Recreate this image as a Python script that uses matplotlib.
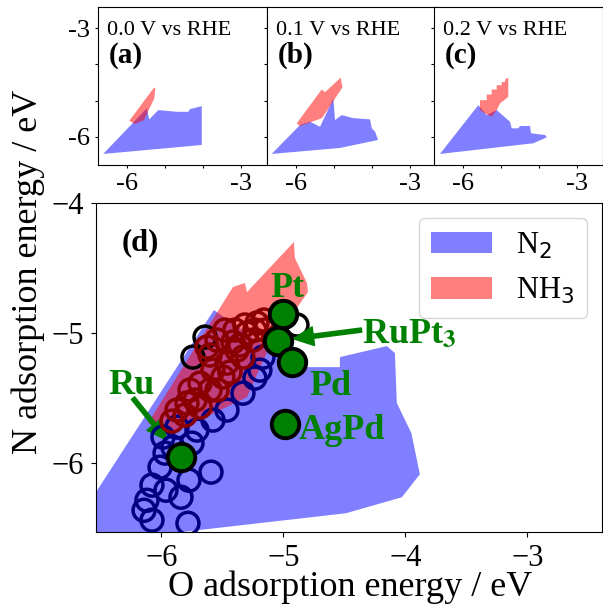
import matplotlib
matplotlib.use('Agg')
import matplotlib.pyplot as plt

plt.rcParams['font.family'] = ['Liberation Serif', 'DejaVu Sans']

# ---- panel (d): product regions ----
n2_x = [-6.822, -5.570, -5.127, -4.865, -4.537, -4.537, -4.152, -4.086,
        -4.070, -3.951, -3.881, -4.029, -4.488]
n2_y = [-6.635, -4.823, -5.115, -5.262, -5.262, -5.185, -5.100, -5.154,
        -5.538, -5.769, -6.085, -6.262, -6.385]
nh3_x = [-6.111, -5.414, -5.316, -5.299, -4.914, -4.906, -4.807, -4.799,
         -4.988, -5.127, -5.299, -5.889]
nh3_y = [-5.692, -4.646, -4.615, -4.685, -4.300, -4.423, -4.615, -4.685,
         -4.938, -5.131, -5.492, -5.762]

# ---- panel (d): screened surfaces ----
blue_x = [-6.143, -6.078, -6.078, -5.963, -5.840, -5.783, -5.775, -5.594,
          -6.012, -5.971, -5.750, -5.873, -5.988, -5.906, -5.709, -5.578,
          -5.463, -5.332, -5.234, -5.193, -5.168, -6.119]
blue_y = [-6.362, -6.438, -6.169, -6.208, -6.262, -6.462, -6.131, -6.069,
          -6.031, -5.923, -5.846, -5.723, -5.800, -5.877, -5.746, -5.669,
          -5.592, -5.462, -5.346, -5.285, -5.185, -6.285]
red_x = [-5.414, -5.299, -5.217, -5.160, -5.545, -5.627, -5.463, -5.578,
         -5.684, -5.766, -5.791, -5.873, -5.914, -5.684, -5.545, -5.496,
         -5.381, -5.250, -5.332, -5.480, -5.316, -5.398, -5.234, -5.602,
         -5.439, -5.725, -5.807, -5.602, -5.357, -5.152]
red_y = [-5.069, -5.000, -4.923, -4.900, -5.054, -5.108, -5.231, -5.285,
         -5.385, -5.438, -5.538, -5.592, -5.677, -5.569, -5.438, -5.338,
         -5.131, -5.054, -5.185, -4.977, -4.938, -4.977, -4.977, -5.169,
         -5.300, -5.515, -5.631, -5.438, -5.092, -4.977]
other_x = [-5.643, -5.742, -4.889]
other_y = [-5.031, -5.185, -4.938]

metals = ['Pt', 'RuPt$_\\mathbf{3}$', 'Pd', 'AgPd', 'Ru']
metal_x = [-5.002, -5.043, -4.933, -4.988, -5.842]
metal_y = [-4.854, -5.059, -5.221, -5.702, -5.956]

# ---- panels (a)-(c) ----
potentials = ['0.0 V vs RHE', '0.1 V vs RHE', '0.2 V vs RHE']
letters = ['(a)', '(b)', '(c)']
n2_a_x = [-6.632, -5.489, -5.421, -5.184, -4.700, -4.395, -4.350, -4.042, -4.042]
n2_a_y = [-6.477, -5.218, -5.520, -5.264, -5.311, -5.311, -5.237, -5.154, -6.229]
nh3_a_x = [-5.947, -5.316, -5.263, -5.289, -5.403, -5.561, -5.797]
nh3_a_y = [-5.560, -4.667, -4.639, -4.942, -5.190, -5.540, -5.650]
n2_b_x = [-6.647, -5.903, -5.639, -5.376, -5.026, -4.982, -4.805, -4.508,
          -4.061, -4.016, -3.929, -3.850, -4.850]
n2_b_y = [-6.477, -5.678, -5.587, -5.725, -4.942, -5.540, -5.402, -5.485,
          -5.521, -5.769, -5.862, -6.091, -6.311]
nh3_b_x = [-5.989, -5.332, -5.245, -4.832, -4.789, -5.324, -5.903]
nh3_b_y = [-5.631, -4.694, -4.769, -4.364, -4.639, -5.485, -5.705]
n2_c_x = [-6.613, -5.605, -5.384, -5.121, -4.771, -4.726, -4.553, -4.508,
          -4.245, -4.218, -3.850, -3.805, -4.158]
n2_c_y = [-6.477, -5.127, -5.402, -5.264, -5.587, -5.769, -5.769, -5.705,
          -5.705, -5.906, -5.953, -6.017, -6.182]
nh3_c_x = [-5.561, -5.561, -5.384, -5.384, -5.253, -5.253, -5.121, -5.121,
           -4.990, -4.990, -4.903, -4.903, -4.816, -4.816, -5.034, -5.121,
           -5.253, -5.429]
nh3_c_y = [-5.264, -4.989, -4.989, -4.833, -4.833, -4.695, -4.695, -4.576,
           -4.576, -4.485, -4.485, -4.419, -4.364, -4.898, -5.080, -5.264,
           -5.449, -5.355]

small_n2 = [(n2_a_x, n2_a_y), (n2_b_x, n2_b_y), (n2_c_x, n2_c_y)]
small_nh3 = [(nh3_a_x, nh3_a_y), (nh3_b_x, nh3_b_y), (nh3_c_x, nh3_c_y)]

fig = plt.figure(figsize=(6.03, 6.04), dpi=100)

# small panels
lefts = [0.1625, 0.4428, 0.7197]
for i in range(3):
    a = fig.add_axes([lefts[i], 0.727, 0.2795, 0.2615])
    a.fill(*small_n2[i], color='blue', alpha=0.5, lw=0)
    a.fill(*small_nh3[i], color='red', alpha=0.5, lw=0)
    a.set_xlim(-6.77, -2.34)
    a.set_ylim(-6.78, -2.41)
    a.set_xticks([-6, -5, -4, -3])
    a.set_xticklabels(['-6', '', '', '-3'])
    a.set_yticks([-6, -5, -4, -3])
    if i == 0:
        a.set_yticklabels(['-6', '', '', '-3'])
    else:
        a.set_yticklabels([])
    a.tick_params(labelsize=19, length=2, pad=4)
    a.text(0.053, 0.823, potentials[i], transform=a.transAxes, fontsize=16)
    a.text(0.065, 0.646, letters[i], transform=a.transAxes, fontsize=21,
           fontweight='bold')

# main panel
ax = fig.add_axes([0.1592, 0.119, 0.8393, 0.545])
ax.fill(n2_x, n2_y, color='blue', alpha=0.5, lw=0, label='N$_2$')
ax.fill(nh3_x, nh3_y, color='red', alpha=0.5, lw=0, label='NH$_3$')
ax.scatter(other_x, other_y, s=250, facecolors='none', edgecolors='black',
           linewidths=2.5, zorder=3)
ax.scatter(blue_x, blue_y, s=250, facecolors='none', edgecolors='navy',
           linewidths=2.5, zorder=4)
ax.scatter(red_x, red_y, s=250, facecolors='none', edgecolors='darkred',
           linewidths=2.5, zorder=5)
ax.scatter(metal_x, metal_y, s=390, color='green', edgecolors='black',
           linewidths=2.8, zorder=6)

# labels of the reference metals (offsets in points)
lab_off = [(2.7, 12), (60, -1.9), (13, -24), (9.6, -10.8), (-52, 46)]
lab_ha = ['center', 'left', 'left', 'left', 'left']
for name, x, y, off, ha in zip(metals, metal_x, metal_y, lab_off, lab_ha):
    ax.annotate(name, (x, y), xytext=off, textcoords='offset points',
                ha=ha, va='baseline', fontsize=26, fontweight='bold',
                color='green', zorder=7, math_fontfamily='stix')

arrow = dict(arrowstyle='simple,head_length=1.45,head_width=1.35,tail_width=0.3',
             color='green', mutation_scale=10, shrinkA=0)
ax.annotate('', (metal_x[1], metal_y[1]), xytext=(60, 7.7),
            textcoords='offset points', arrowprops=dict(arrow, shrinkB=11))
ax.annotate('', (metal_x[4], metal_y[4]), xytext=(-34.4, 42.7),
            textcoords='offset points', arrowprops=dict(arrow, shrinkB=16))

ax.set_xlim(-6.537, -2.387)
ax.set_ylim(-6.53, -4.0)
ax.set_xticks([-6, -5, -4, -3])
ax.set_yticks([-6, -5, -4])
ax.tick_params(labelsize=22, pad=5)
ax.text(0.051, 0.857, '(d)', transform=ax.transAxes, fontsize=22,
        fontweight='bold')
ax.legend(loc='upper right', fontsize=22)
fig.text(0.5805, 0.013, 'O adsorption energy / eV', fontsize=26,
         ha='center', va='baseline')
fig.text(0.047, 0.55, 'N adsorption energy / eV', rotation=90, fontsize=26,
         ha='center', va='center')

fig.savefig('out.png', dpi=100)
